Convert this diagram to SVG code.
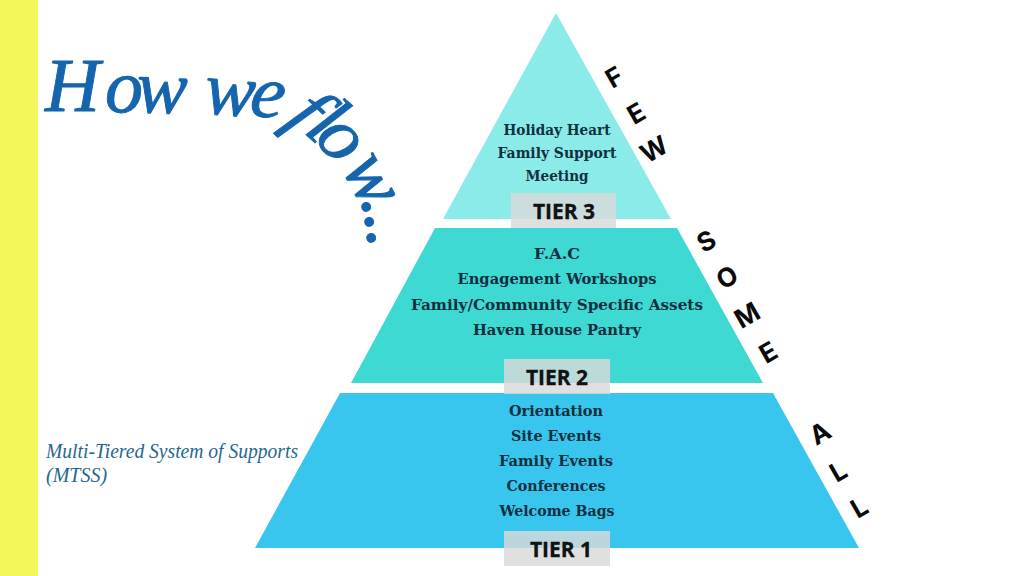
<svg xmlns="http://www.w3.org/2000/svg" width="1024" height="576" viewBox="0 0 1024 576">
<style>
.s{font-family:"DejaVu Serif","Liberation Serif",serif;font-weight:700;font-size:14.6px;fill:#0f2f3d;text-anchor:middle}
.t{font-family:"Open Sans","Liberation Sans",sans-serif;font-weight:700;font-size:21px;fill:#111;text-anchor:middle;stroke:#111;stroke-width:.3}
.b{fill:#d9d9d9;fill-opacity:.82}
.l{font-family:"Inter","Liberation Sans",sans-serif;font-weight:700;font-size:26px;fill:#0a0a0a;text-anchor:middle}
</style>
<rect width="1024" height="576" fill="#fff"/>
<rect id="bar" width="38" height="576" fill="#F4F75A"/>
<g id="title"><text font-family="Liberation Serif,serif" font-style="italic" font-size="76" fill="#1464AE" stroke="#1464AE" stroke-width=".9"
 x="45 105 136 190 203 248 285 284 303 313 341 361.5 364.5 366.5"
 y="111 112 112 113 113 114 118 121 132 138 167 200 215 231"
 rotate="0 0 2 0 5 10 0 44 42 50 62 80 80 80">How we flow...</text></g>
<g id="caption" font-family="Liberation Serif,serif" font-style="italic" font-size="20" fill="#1F6790">
<text x="46" y="458" textLength="252" lengthAdjust="spacingAndGlyphs">Multi-Tiered System of Supports</text>
<text x="46" y="482">(MTSS)</text></g>
<g id="tier3">
<polygon points="556,13 671,219 443,219" fill="#8AEBE8"/>
<text class="s" x="557" y="135" textLength="107" lengthAdjust="spacingAndGlyphs">Holiday Heart</text>
<text class="s" x="557" y="158" textLength="119" lengthAdjust="spacingAndGlyphs">Family Support</text>
<text class="s" x="557" y="181" textLength="63" lengthAdjust="spacingAndGlyphs">Meeting</text>
</g>
<g id="tier2">
<polygon points="435,228 677,228 763,383 351,383" fill="#3FD9D3"/>
<text class="s" x="557" y="259" textLength="46" lengthAdjust="spacingAndGlyphs">F.A.C</text>
<text class="s" x="557" y="284" textLength="199" lengthAdjust="spacingAndGlyphs">Engagement Workshops</text>
<text class="s" x="557" y="310" textLength="292" lengthAdjust="spacingAndGlyphs">Family/Community Specific Assets</text>
<text class="s" x="557" y="335" textLength="168" lengthAdjust="spacingAndGlyphs">Haven House Pantry</text>
</g>
<g id="tier1">
<polygon points="340,393 773,393 859,548 255,548" fill="#38C6EE"/>
<text class="s" x="556" y="416" textLength="94" lengthAdjust="spacingAndGlyphs">Orientation</text>
<text class="s" x="556" y="441" textLength="90" lengthAdjust="spacingAndGlyphs">Site Events</text>
<text class="s" x="556" y="466" textLength="114" lengthAdjust="spacingAndGlyphs">Family Events</text>
<text class="s" x="556" y="491" textLength="99" lengthAdjust="spacingAndGlyphs">Conferences</text>
<text class="s" x="557" y="516" textLength="115" lengthAdjust="spacingAndGlyphs">Welcome Bags</text>
</g>
<g id="label3"><rect class="b" x="511" y="193" width="105" height="35"/><text class="t" x="564" y="219">TIER 3</text></g>
<g id="label2"><rect class="b" x="504" y="359" width="106" height="35"/><text class="t" x="557" y="385">TIER 2</text></g>
<g id="label1"><rect class="b" x="504" y="531" width="106" height="35"/><text class="t" x="561" y="557">TIER 1</text></g>
<g id="few">
<text class="l" transform="translate(614,77) rotate(-30)" y="9.5">F</text>
<text class="l" transform="translate(636,113) rotate(-30)" y="9.5">E</text>
<text class="l" transform="translate(654,149) rotate(-30)" y="9.5">W</text>
</g>
<g id="some">
<text class="l" transform="translate(706,241) rotate(-30)" y="9.5">S</text>
<text class="l" transform="translate(727,277) rotate(-30)" y="9.5">O</text>
<text class="l" transform="translate(747,315) rotate(-30)" y="9.5">M</text>
<text class="l" transform="translate(768,352) rotate(-30)" y="9.5">E</text>
</g>
<g id="all">
<text class="l" transform="translate(820,433) rotate(-30)" y="9.5">A</text>
<text class="l" transform="translate(838,471) rotate(-30)" y="9.5">L</text>
<text class="l" transform="translate(859,507) rotate(-30)" y="9.5">L</text>
</g>
</svg>
